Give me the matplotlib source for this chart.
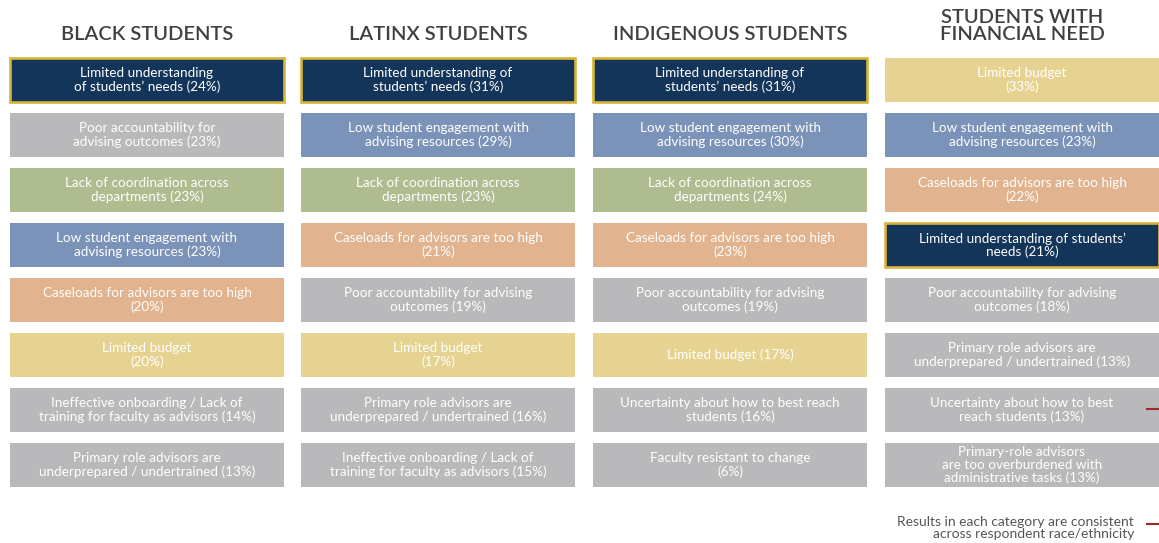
# Recreate the advising challenges grid by student group
import matplotlib.pyplot as plt

groups = ["BLACK STUDENTS", "LATINX STUDENTS", "INDIGENOUS STUDENTS", "STUDENTS WITH\nFINANCIAL NEED"]

# issue keys (used for colours), label templates and percentages per group
black_keys = ["understanding", "accountability", "coordination", "engagement", "caseloads", "budget", "onboarding", "underprepared"]
black_labels = ["Limited understanding\nof students’ needs ({}%)", "Poor accountability for\nadvising outcomes ({}%)",
                "Lack of coordination across\ndepartments ({}%)", "Low student engagement with\nadvising resources ({}%)",
                "Caseloads for advisors are too high\n({}%)", "Limited budget\n({}%)",
                "Ineffective onboarding / Lack of\ntraining for faculty as advisors ({}%)",
                "Primary role advisors are\nunderprepared / undertrained ({}%)"]
black_pcts = [24, 23, 23, 23, 20, 20, 14, 13]

latinx_keys = ["understanding", "engagement", "coordination", "caseloads", "accountability", "budget", "underprepared", "onboarding"]
latinx_labels = ["Limited understanding of\nstudents’ needs ({}%)", "Low student engagement with\nadvising resources ({}%)",
                 "Lack of coordination across\ndepartments ({}%)", "Caseloads for advisors are too high\n({}%)",
                 "Poor accountability for advising\noutcomes ({}%)", "Limited budget\n({}%)",
                 "Primary role advisors are\nunderprepared / undertrained ({}%)",
                 "Ineffective onboarding / Lack of\ntraining for faculty as advisors ({}%)"]
latinx_pcts = [31, 29, 23, 21, 19, 17, 16, 15]

indigenous_keys = ["understanding", "engagement", "coordination", "caseloads", "accountability", "budget", "uncertainty", "resistant"]
indigenous_labels = ["Limited understanding of\nstudents’ needs ({}%)", "Low student engagement with\nadvising resources ({}%)",
                     "Lack of coordination across\ndepartments ({}%)", "Caseloads for advisors are too high\n({}%)",
                     "Poor accountability for advising\noutcomes ({}%)", "Limited budget ({}%)",
                     "Uncertainty about how to best reach\nstudents ({}%)", "Faculty resistant to change\n({}%)"]
indigenous_pcts = [31, 30, 24, 23, 19, 17, 16, 6]

financial_keys = ["budget", "engagement", "caseloads", "understanding", "accountability", "underprepared", "uncertainty", "overburdened"]
financial_labels = ["Limited budget\n({}%)", "Low student engagement with\nadvising resources ({}%)",
                    "Caseloads for advisors are too high\n({}%)", "Limited understanding of students’\nneeds ({}%)",
                    "Poor accountability for advising\noutcomes ({}%)", "Primary role advisors are\nunderprepared / undertrained ({}%)",
                    "Uncertainty about how to best\nreach students ({}%)",
                    "Primary-role advisors\nare too overburdened with\nadministrative tasks ({}%)"]
financial_pcts = [33, 23, 22, 21, 18, 13, 13, 13]

note = "Results in each category are consistent\nacross respondent race/ethnicity"

colors = {"understanding": "#14355a", "accountability": "#b9b9bb", "coordination": "#aebc8f",
          "engagement": "#7b93b8", "caseloads": "#e1b48f", "budget": "#e6d391"}
grey = "#b9b9bb"
gold = "#d6b43a"

columns = [(black_keys, black_labels, black_pcts), (latinx_keys, latinx_labels, latinx_pcts),
           (indigenous_keys, indigenous_labels, indigenous_pcts), (financial_keys, financial_labels, financial_pcts)]

plt.rcParams['font.family'] = ['Lato', 'DejaVu Sans']

W, H = 1159, 543
fig = plt.figure(figsize=(W / 100, H / 100), dpi=100)
ax = fig.add_axes([0, 0, 1, 1])
ax.set_xlim(0, W)
ax.set_ylim(H, 0)
ax.axis("off")

col_left = [10, 301, 593, 885]
col_w = 274
row_top, row_step, box_h = 58, 55, 44

for c, (keys, labels, pcts) in enumerate(columns):
    x0 = col_left[c]
    ys = [row_top + row_step * i + box_h / 2 for i in range(len(keys))]
    fc = [colors.get(k, grey) for k in keys]
    ec = [gold if k == "understanding" else "none" for k in keys]
    ax.barh(ys, col_w, left=x0, height=box_h, color=fc, edgecolor=ec, linewidth=1.9)
    for y, lab, p in zip(ys, labels, pcts):
        ax.text(x0 + col_w / 2, y, lab.format(p), ha="center", va="center", color="white",
                fontsize=9.7, linespacing=1.05)
    hy = 35 if "\n" not in groups[c] else 26
    ax.text(x0 + col_w / 2, hy, groups[c], ha="center", va="center", color="#404040",
            fontsize=14.5, fontweight="semibold", linespacing=1.0)

ax.text(1134, 528, note, ha="right", va="center", color="#555555", fontsize=10, linespacing=1.05)
ax.plot([1147, 1159], [409, 409], color="#9b2b2b", linewidth=1.5)
ax.plot([1147, 1159], [524, 524], color="#9b2b2b", linewidth=1.5)

fig.savefig("out.png", dpi=100)
